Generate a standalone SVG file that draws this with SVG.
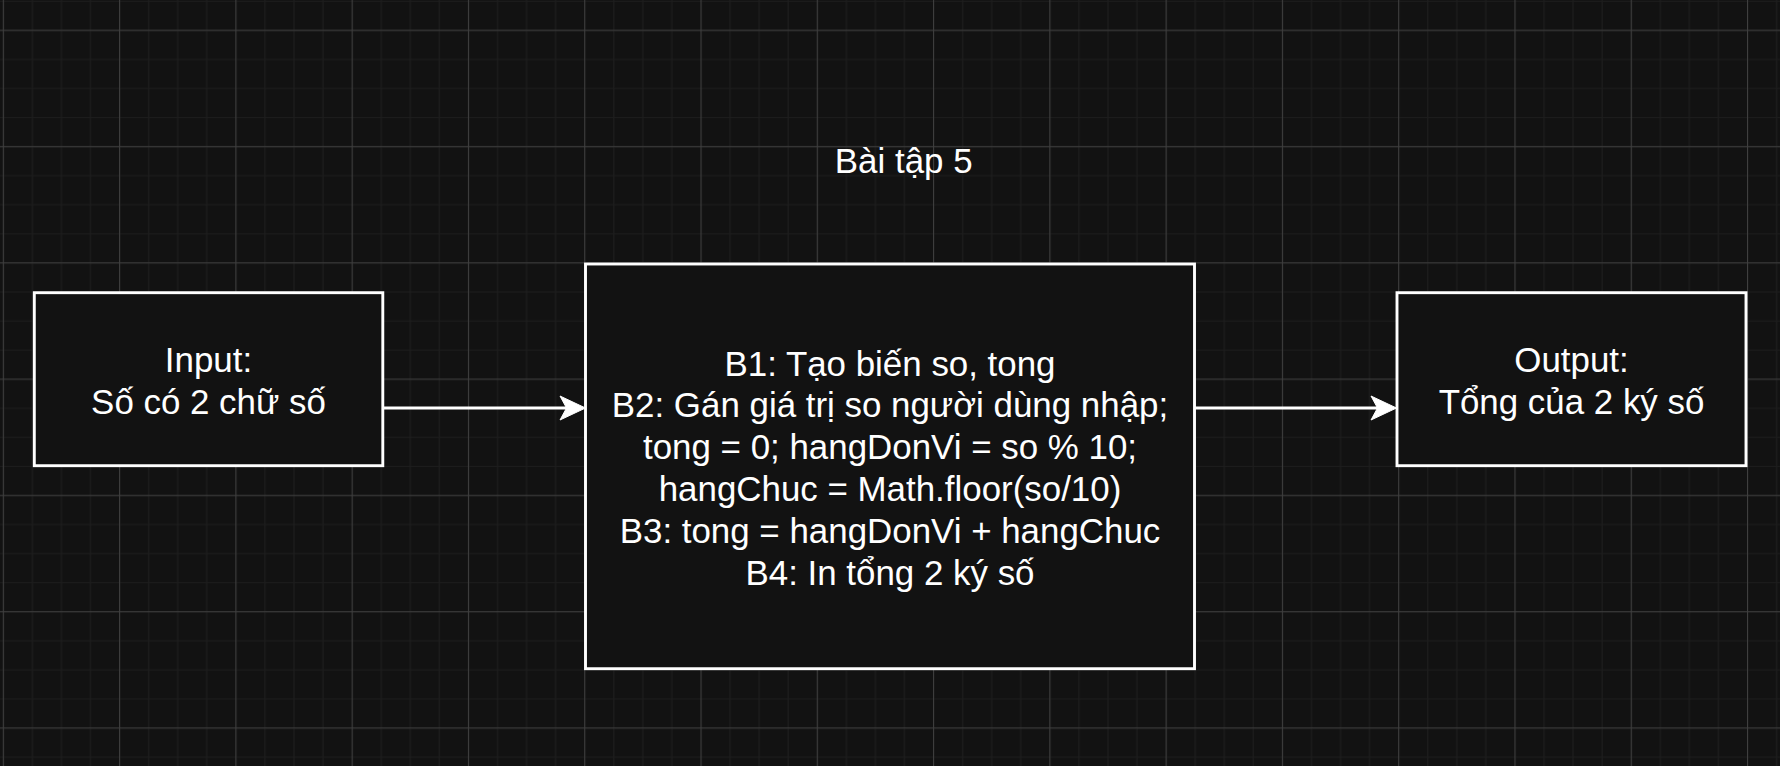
<svg xmlns="http://www.w3.org/2000/svg" width="1780" height="766" viewBox="0 0 1780 766">
  <defs>
    <pattern id="grid" x="2.8" y="0.8" width="116.28" height="116.28" patternUnits="userSpaceOnUse">
      <path d="M0.5,0 V116.28 M29.57,0 V116.28 M58.64,0 V116.28 M87.71,0 V116.28 M0,0.5 H116.28 M0,29.57 H116.28 M0,58.64 H116.28 M0,87.71 H116.28" stroke="#1d1d1d" stroke-width="1.2" fill="none"/>
      <path d="M0.5,0 V116.28 M0,29.57 H116.28" stroke="#3f3f3f" stroke-width="1.1" fill="none"/>
    </pattern>
    <style>
      .box { fill: #121212; stroke: #ffffff; stroke-width: 2.9; }
      .lbl { font-family: "Liberation Sans", Arial, Helvetica, sans-serif; font-size: 34.9px; fill: #ffffff; text-anchor: middle; }
      .edge { stroke: #ffffff; stroke-width: 2.9; fill: none; }
      .head { fill: #ffffff; stroke: #ffffff; stroke-width: 1; stroke-linejoin: miter; }
    </style>
  </defs>
  <rect x="0" y="0" width="1780" height="766" fill="#121212"/>
  <rect x="0" y="0" width="1780" height="766" fill="url(#grid)"/>

  <g id="title">
    <text class="lbl" x="903.7" y="172.7">Bài tập 5</text>
  </g>

  <g id="connectors">
    <path class="edge" d="M383.5,408 H567"/>
    <polygon class="head" points="585.5,408 560,396 566.5,408 560,420"/>
    <path class="edge" d="M1194.5,408 H1378"/>
    <polygon class="head" points="1396.5,408 1371,396 1377.5,408 1371,420"/>
  </g>

  <g id="input">
    <rect class="box" x="34.3" y="292.7" width="348.5" height="173"/>
    <text class="lbl" x="208.5" y="372">Input:</text>
    <text class="lbl" x="208.5" y="414">Số có 2 chữ số</text>
  </g>

  <g id="process">
    <rect class="box" x="585.5" y="264" width="609" height="404.7"/>
    <text class="lbl" x="890" y="375.5">B1: Tạo biến so, tong</text>
    <text class="lbl" x="890" y="417.4">B2: Gán giá trị so người dùng nhập;</text>
    <text class="lbl" x="890" y="459.2">tong = 0; hangDonVi = so % 10;</text>
    <text class="lbl" x="890" y="501.1">hangChuc = Math.floor(so/10)</text>
    <text class="lbl" x="890" y="542.9">B3: tong = hangDonVi + hangChuc</text>
    <text class="lbl" x="890" y="584.8">B4: In tổng 2 ký số</text>
  </g>

  <g id="output">
    <rect class="box" x="1397" y="292.7" width="349" height="173"/>
    <text class="lbl" x="1571.5" y="372">Output:</text>
    <text class="lbl" x="1571.5" y="414">Tổng của 2 ký số</text>
  </g>
</svg>
